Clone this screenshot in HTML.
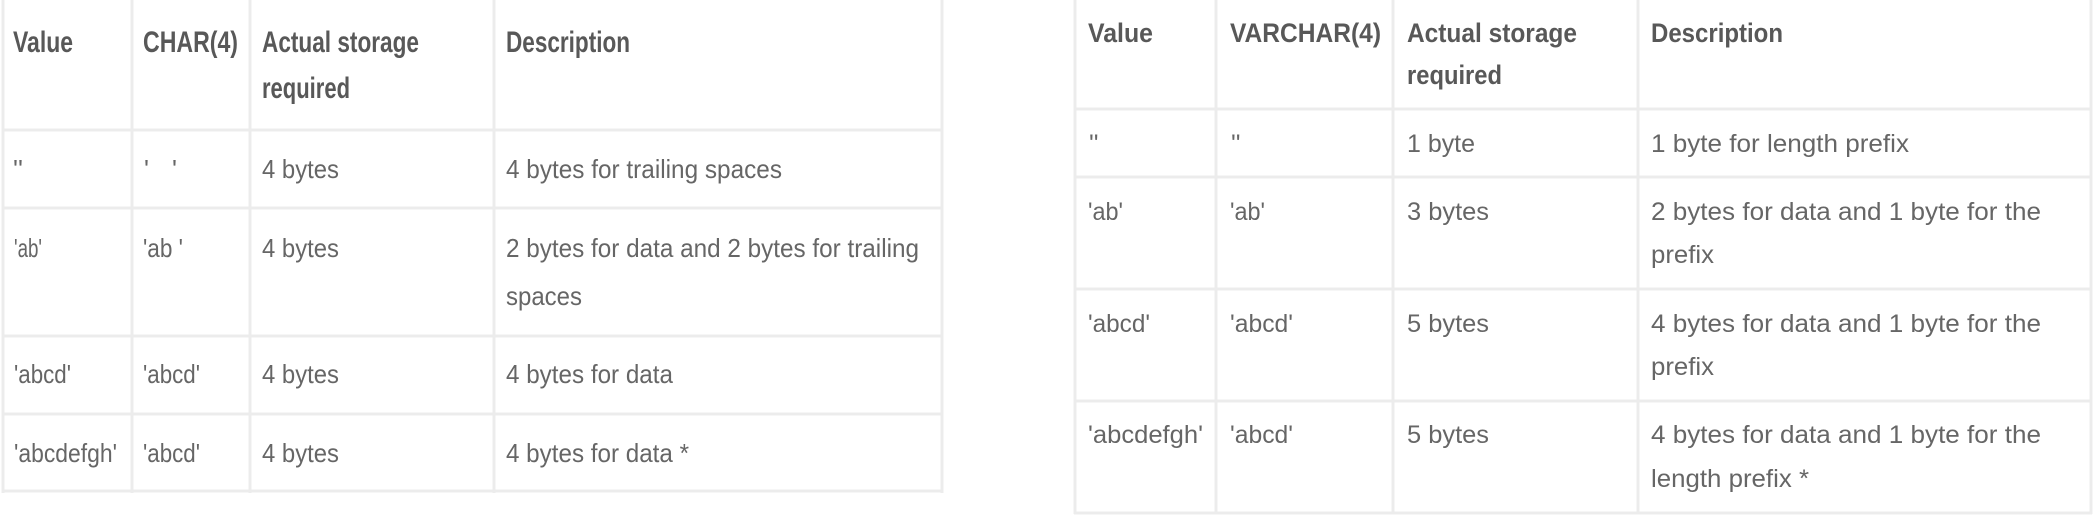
<!DOCTYPE html>
<html><head><meta charset="utf-8"><style>
html,body{margin:0;padding:0;background:#fff;width:2096px;height:516px;overflow:hidden}
svg{display:block}
text{font-family:"Liberation Sans",sans-serif}
.h{font-weight:bold;fill:#585858}
.b{fill:#666}
.L .h{font-size:30px}
.L .b{font-size:26px}
.R .h{font-size:27px}
.R .b{font-size:25px}
</style></head><body>
<svg width="2096" height="516" viewBox="0 0 2096 516" xmlns="http://www.w3.org/2000/svg">
<g stroke="#ececec" stroke-width="3" fill="none">
  <!-- left table -->
  <line x1="3" y1="0" x2="3" y2="493"/>
  <line x1="132" y1="0" x2="132" y2="493"/>
  <line x1="250" y1="0" x2="250" y2="493"/>
  <line x1="494" y1="0" x2="494" y2="493"/>
  <line x1="942" y1="0" x2="942" y2="493"/>
  <line x1="2" y1="130" x2="943" y2="130"/>
  <line x1="2" y1="208" x2="943" y2="208"/>
  <line x1="2" y1="336" x2="943" y2="336"/>
  <line x1="2" y1="414" x2="943" y2="414"/>
  <line x1="2" y1="491" x2="943" y2="491"/>
  <!-- right table -->
  <line x1="1075" y1="0" x2="1075" y2="514"/>
  <line x1="1216" y1="0" x2="1216" y2="514"/>
  <line x1="1393" y1="0" x2="1393" y2="514"/>
  <line x1="1638" y1="0" x2="1638" y2="514"/>
  <line x1="2091" y1="0" x2="2091" y2="514"/>
  <line x1="1074" y1="109" x2="2092" y2="109"/>
  <line x1="1074" y1="177" x2="2092" y2="177"/>
  <line x1="1074" y1="289" x2="2092" y2="289"/>
  <line x1="1074" y1="401" x2="2092" y2="401"/>
  <line x1="1074" y1="513" x2="2092" y2="513"/>
</g>
<g class="L" lengthAdjust="spacingAndGlyphs">
  <text class="h" x="13" y="52" textLength="60" lengthAdjust="spacingAndGlyphs">Value</text>
  <text class="h" x="143" y="52" textLength="95" lengthAdjust="spacingAndGlyphs">CHAR(4)</text>
  <text class="h" x="262" y="52" textLength="157" lengthAdjust="spacingAndGlyphs">Actual storage</text>
  <text class="h" x="262" y="98" textLength="88" lengthAdjust="spacingAndGlyphs">required</text>
  <text class="h" x="506" y="52" textLength="124" lengthAdjust="spacingAndGlyphs">Description</text>

  <text class="b" x="13" y="178">''</text>
  <text class="b" x="144" y="178">'</text>
  <text class="b" x="172" y="178">'</text>
  <text class="b" x="262" y="178" textLength="77" lengthAdjust="spacingAndGlyphs">4 bytes</text>
  <text class="b" x="506" y="178" textLength="276" lengthAdjust="spacingAndGlyphs">4 bytes for trailing spaces</text>

  <text class="b" x="14" y="257" textLength="28" lengthAdjust="spacingAndGlyphs">'ab'</text>
  <text class="b" x="143" y="257" textLength="40" lengthAdjust="spacingAndGlyphs">'ab '</text>
  <text class="b" x="262" y="257" textLength="77" lengthAdjust="spacingAndGlyphs">4 bytes</text>
  <text class="b" x="506" y="257" textLength="413" lengthAdjust="spacingAndGlyphs">2 bytes for data and 2 bytes for trailing</text>
  <text class="b" x="506" y="305" textLength="76" lengthAdjust="spacingAndGlyphs">spaces</text>

  <text class="b" x="14" y="383" textLength="57" lengthAdjust="spacingAndGlyphs">'abcd'</text>
  <text class="b" x="143" y="383" textLength="57" lengthAdjust="spacingAndGlyphs">'abcd'</text>
  <text class="b" x="262" y="383" textLength="77" lengthAdjust="spacingAndGlyphs">4 bytes</text>
  <text class="b" x="506" y="383" textLength="167" lengthAdjust="spacingAndGlyphs">4 bytes for data</text>

  <text class="b" x="14" y="462" textLength="103" lengthAdjust="spacingAndGlyphs">'abcdefgh'</text>
  <text class="b" x="143" y="462" textLength="57" lengthAdjust="spacingAndGlyphs">'abcd'</text>
  <text class="b" x="262" y="462" textLength="77" lengthAdjust="spacingAndGlyphs">4 bytes</text>
  <text class="b" x="506" y="462" textLength="183" lengthAdjust="spacingAndGlyphs">4 bytes for data *</text>
</g>
<g class="R">
  <text class="h" x="1088" y="42" textLength="65" lengthAdjust="spacingAndGlyphs">Value</text>
  <text class="h" x="1230" y="42" textLength="151" lengthAdjust="spacingAndGlyphs">VARCHAR(4)</text>
  <text class="h" x="1407" y="42" textLength="170" lengthAdjust="spacingAndGlyphs">Actual storage</text>
  <text class="h" x="1407" y="84" textLength="95" lengthAdjust="spacingAndGlyphs">required</text>
  <text class="h" x="1651" y="42" textLength="132" lengthAdjust="spacingAndGlyphs">Description</text>

  <text class="b" x="1089" y="152">''</text>
  <text class="b" x="1231" y="152">''</text>
  <text class="b" x="1407" y="152" textLength="68" lengthAdjust="spacingAndGlyphs">1 byte</text>
  <text class="b" x="1651" y="152" textLength="258" lengthAdjust="spacingAndGlyphs">1 byte for length prefix</text>

  <text class="b" x="1088" y="220" textLength="35" lengthAdjust="spacingAndGlyphs">'ab'</text>
  <text class="b" x="1230" y="220" textLength="35" lengthAdjust="spacingAndGlyphs">'ab'</text>
  <text class="b" x="1407" y="220" textLength="82" lengthAdjust="spacingAndGlyphs">3 bytes</text>
  <text class="b" x="1651" y="220" textLength="390" lengthAdjust="spacingAndGlyphs">2 bytes for data and 1 byte for the</text>
  <text class="b" x="1651" y="263" textLength="63" lengthAdjust="spacingAndGlyphs">prefix</text>

  <text class="b" x="1088" y="332" textLength="62" lengthAdjust="spacingAndGlyphs">'abcd'</text>
  <text class="b" x="1230" y="332" textLength="63" lengthAdjust="spacingAndGlyphs">'abcd'</text>
  <text class="b" x="1407" y="332" textLength="82" lengthAdjust="spacingAndGlyphs">5 bytes</text>
  <text class="b" x="1651" y="332" textLength="390" lengthAdjust="spacingAndGlyphs">4 bytes for data and 1 byte for the</text>
  <text class="b" x="1651" y="375" textLength="63" lengthAdjust="spacingAndGlyphs">prefix</text>

  <text class="b" x="1088" y="443" textLength="115" lengthAdjust="spacingAndGlyphs">'abcdefgh'</text>
  <text class="b" x="1230" y="443" textLength="63" lengthAdjust="spacingAndGlyphs">'abcd'</text>
  <text class="b" x="1407" y="443" textLength="82" lengthAdjust="spacingAndGlyphs">5 bytes</text>
  <text class="b" x="1651" y="443" textLength="390" lengthAdjust="spacingAndGlyphs">4 bytes for data and 1 byte for the</text>
  <text class="b" x="1651" y="487" textLength="158" lengthAdjust="spacingAndGlyphs">length prefix *</text>
</g>
</svg>
</body></html>
